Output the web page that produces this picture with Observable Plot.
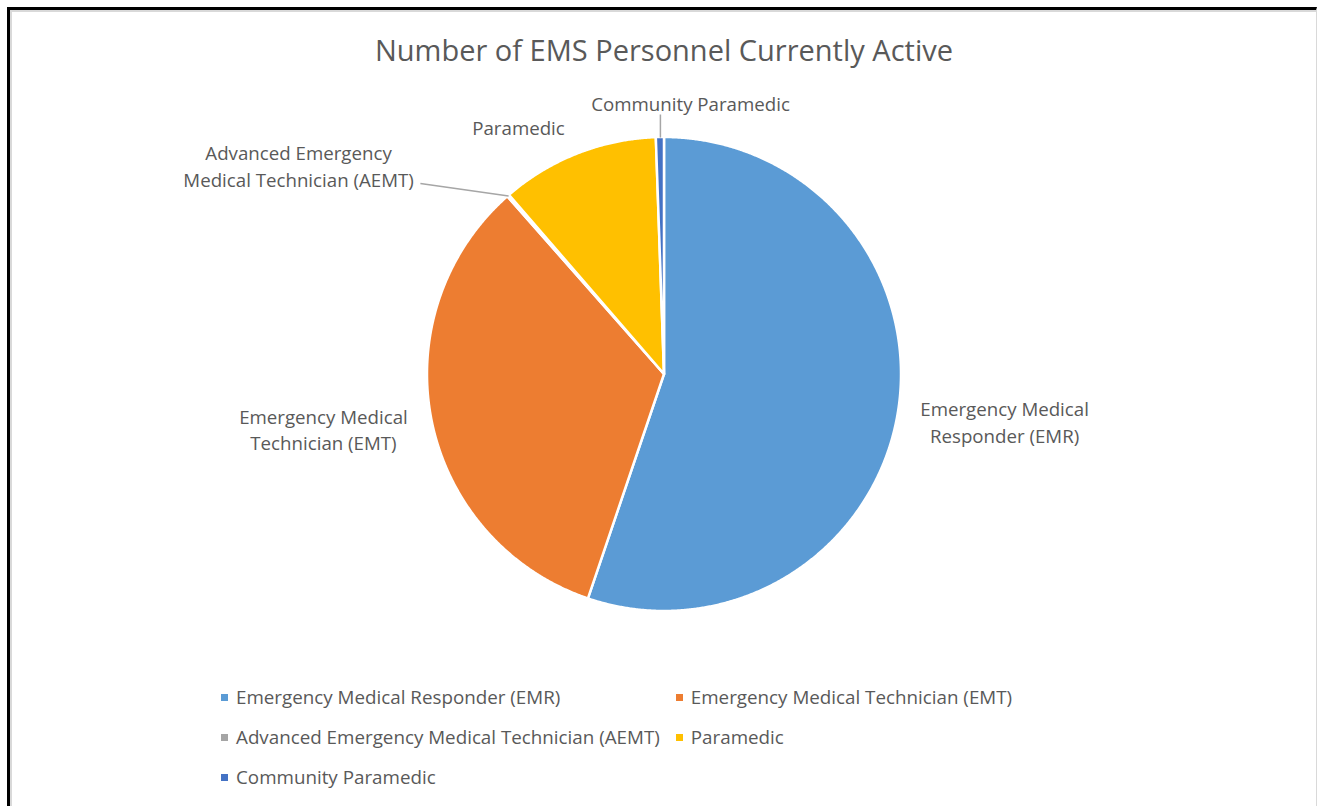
<!DOCTYPE html>
<html>
<head>
<meta charset="utf-8">
<script src="https://cdn.jsdelivr.net/npm/d3@7"></script>
<script src="https://cdn.jsdelivr.net/npm/@observablehq/plot@0.6"></script>
<style>
  html, body { margin: 0; padding: 0; background: #fff; }
  #page { position: relative; width: 1317px; height: 806px; overflow: hidden; font-family: "Open Sans", Lato, sans-serif; color: #595959; }
  #frame { position: absolute; left: 7px; top: 7px; width: 1306px; height: 820px;
           border-top: 3px solid #000; border-left: 3px solid #000; border-right: 1px solid #d9d9d9; box-shadow: inset 2px 2px 0 #d9d9d9; }
  #chart { position: absolute; left: 0; top: 0; }
  #title { position: absolute; left: 0; width: 1328px; top: 30px; text-align: center; font-size: 29px; line-height: 40px; color: #595959; }
  #legend { position: absolute; left: 221px; top: 684px; display: grid; grid-template-columns: auto auto; column-gap: 16px; row-gap: 14px; font-size: 18.8px; line-height: 26px; }
  .li { display: flex; align-items: center; white-space: nowrap; }
  .sw { width: 7px; height: 7px; margin-right: 8px; }
</style>
</head>
<body>
<div id="page">
  <div id="frame"></div>
  <div id="chart"></div>
  <div id="title">Number of EMS Personnel Currently Active</div>
  <div id="legend"></div>
</div>
<script>
// ---- data ----
const categories = [
  "Emergency Medical Responder (EMR)",
  "Emergency Medical Technician (EMT)",
  "Advanced Emergency Medical Technician (AEMT)",
  "Paramedic",
  "Community Paramedic"
];
const values = [55.2, 33.3, 0.15, 10.8, 0.55];
const sliceLabels = [
  "Emergency Medical\nResponder (EMR)",
  "Emergency Medical\nTechnician (EMT)",
  "Advanced Emergency\nMedical Technician (AEMT)",
  "Paramedic",
  "Community Paramedic"
];
const colors = ["#5B9BD5", "#ED7D31", "#A5A5A5", "#FFC000", "#4472C4"];

// ---- layout (label placement in radius units) ----
const labelPos = [
  {x: 1.435, y: -0.205},
  {x: -1.439, y: -0.236},
  {x: -1.544, y: 0.876},
  {x: -0.616, y: 1.038},
  {x: 0.110, y: 1.139}
];
const leaderFrom = [null, null, {x: -1.03, y: 0.806}, null, {y: 1.097}];

const data = categories.map((c, i) => ({name: c, value: values[i], label: sliceLabels[i]}));
const arcs = d3.pie().sort(null).value(d => d.value)(data);

// wedge outline points
const wedgePts = [];
arcs.forEach(a => {
  const n = Math.max(2, Math.ceil((a.endAngle - a.startAngle) / 0.005));
  for (let k = 0; k <= n; k++) {
    const t = a.startAngle + (a.endAngle - a.startAngle) * k / n;
    wedgePts.push({name: a.data.name, x: Math.sin(t), y: Math.cos(t)});
  }
});

const labels = arcs.map((a, i) => ({label: a.data.label, x: labelPos[i].x, y: labelPos[i].y}));
const leaders = [];
arcs.forEach((a, i) => {
  const lf = leaderFrom[i];
  if (!lf) return;
  const mid = (a.startAngle + a.endAngle) / 2;
  const rx = Math.sin(mid), ry = Math.cos(mid);
  leaders.push({x1: lf.x !== undefined ? lf.x : rx, y1: lf.y, x2: rx, y2: ry});
});

const plot = Plot.plot({
  width: 1317,
  height: 806,
  marginLeft: 427,
  marginRight: 416,
  marginTop: 137,
  marginBottom: 195,
  x: {domain: [-1, 1], axis: null},
  y: {domain: [-1, 1], axis: null},
  color: {domain: categories, range: colors},
  style: {fontFamily: "'Open Sans', Lato, sans-serif", background: "transparent", overflow: "visible"},
  marks: [
    Plot.area(wedgePts, {x1: "x", y1: "y", x2: () => 0, y2: () => 0, z: "name", fill: "name", stroke: "white", strokeWidth: 2.5, strokeLinejoin: "round"}),
    Plot.link(leaders, {x1: "x1", y1: "y1", x2: "x2", y2: "y2", stroke: "#A6A6A6", strokeWidth: 1.5}),
    Plot.text(labels, {x: "x", y: "y", text: "label", fill: "#595959", fontSize: 18.7, lineHeight: 1.43, dy: -2})
  ]
});
document.getElementById("chart").appendChild(plot);

const legend = document.getElementById("legend");
categories.forEach((c, i) => {
  const d = document.createElement("div");
  d.className = "li";
  d.innerHTML = `<span class="sw" style="background:${colors[i]}"></span><span>${c}</span>`;
  legend.appendChild(d);
});
</script>
</body>
</html>
